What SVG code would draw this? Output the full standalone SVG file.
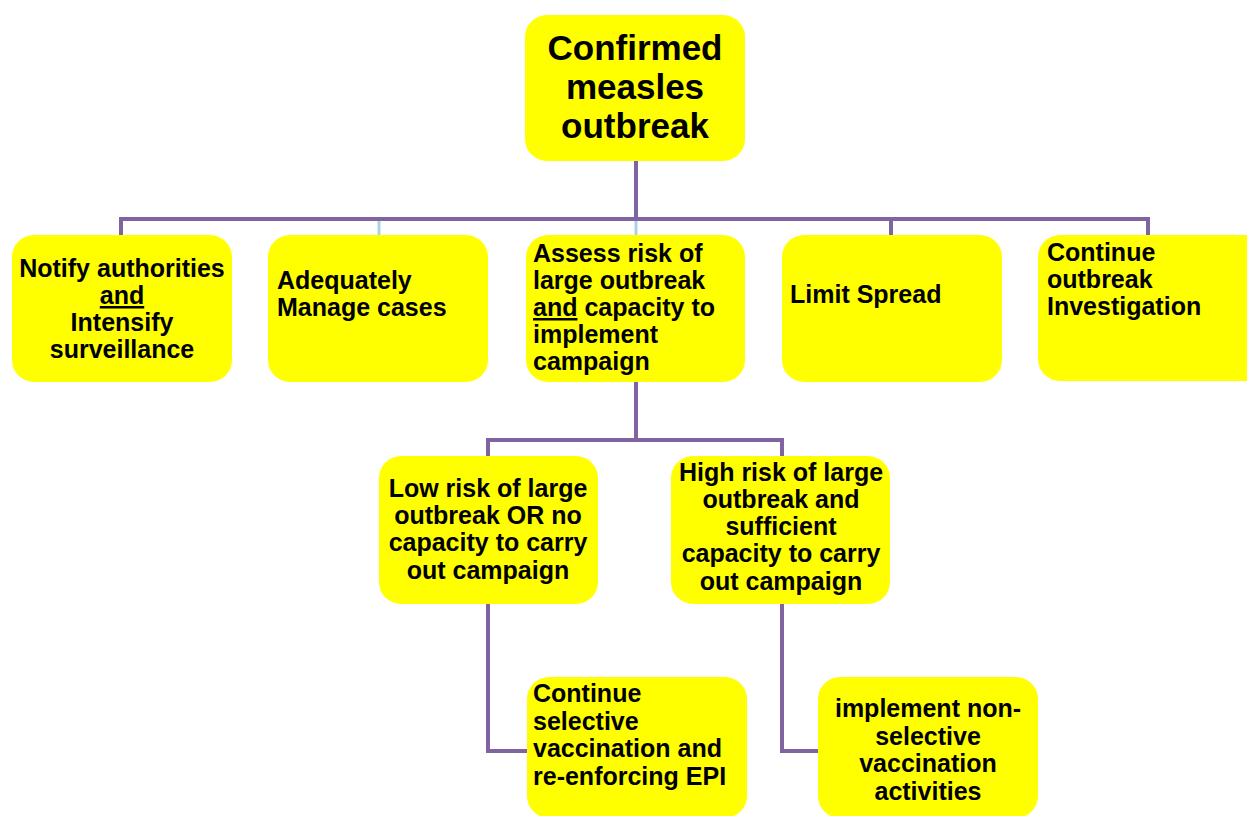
<svg xmlns="http://www.w3.org/2000/svg" width="1247" height="816" viewBox="0 0 1247 816">
<style>
.box{fill:#ffff00;}
.t{font-family:"Liberation Sans",Arial,sans-serif;font-weight:bold;font-size:25px;fill:#000;}
.tc{text-anchor:middle;}
.big{font-size:35px;}
.ln{fill:none;stroke:#8064a2;stroke-width:4;}
.lb{fill:none;stroke:#a9d3e3;stroke-width:3;}
.u{text-decoration:underline;}
</style>
<rect width="1247" height="816" fill="#ffffff"/>
<g id="connectors">
<path class="ln" d="M636 160 V219"/>
<path class="ln" d="M121 236 V219 H1148 V236"/>
<path class="ln" d="M891 219 V236"/>
<path class="lb" d="M379 221 V236"/>
<path class="lb" d="M636 221 V236"/>
<path class="ln" d="M636 380 V440"/>
<path class="ln" d="M488 456 V440 H782 V456"/>
<path class="ln" d="M488 603 V751 H528"/>
<path class="ln" d="M782 603 V751 H819"/>
</g>
<g id="n-root">
<rect class="box" x="525" y="15" width="220" height="146" rx="22"/>
<text class="t big tc" x="635" y="60">Confirmed</text>
<text class="t big tc" x="635" y="99">measles</text>
<text class="t big tc" x="635" y="138">outbreak</text>
</g>
<g id="n-notify">
<rect class="box" x="12" y="235" width="220" height="147" rx="22"/>
<text class="t tc" x="122" y="277">Notify authorities</text>
<text class="t tc" x="122" y="304"><tspan class="u">and</tspan></text>
<text class="t tc" x="122" y="331">Intensify</text>
<text class="t tc" x="122" y="358">surveillance</text>
</g>
<g id="n-manage">
<rect class="box" x="268" y="235" width="220" height="147" rx="22"/>
<text class="t" x="277" y="289">Adequately</text>
<text class="t" x="277" y="316">Manage cases</text>
</g>
<g id="n-assess">
<rect class="box" x="526" y="235" width="219" height="147" rx="22"/>
<text class="t" x="533" y="262">Assess risk of</text>
<text class="t" x="533" y="289">large outbreak</text>
<text class="t" x="533" y="316"><tspan class="u">and</tspan> capacity  to</text>
<text class="t" x="533" y="343">implement</text>
<text class="t" x="533" y="370">campaign</text>
</g>
<g id="n-limit">
<rect class="box" x="782" y="235" width="220" height="147" rx="22"/>
<text class="t" x="790" y="303">Limit Spread</text>
</g>
<g id="n-investigate">
<rect class="box" x="1038" y="235" width="230" height="146" rx="22"/>
<text class="t" x="1047" y="261">Continue</text>
<text class="t" x="1047" y="288">outbreak</text>
<text class="t" x="1047" y="315">Investigation</text>
</g>
<g id="n-low">
<rect class="box" x="379" y="456" width="219" height="148" rx="22"/>
<text class="t tc" x="488" y="497">Low risk of large</text>
<text class="t tc" x="488" y="524">outbreak OR no</text>
<text class="t tc" x="488" y="551">capacity to carry</text>
<text class="t tc" x="488" y="579">out campaign</text>
</g>
<g id="n-high">
<rect class="box" x="671" y="456" width="219" height="148" rx="22"/>
<text class="t tc" x="781" y="481">High risk of large</text>
<text class="t tc" x="781" y="508">outbreak and</text>
<text class="t tc" x="781" y="535">sufficient</text>
<text class="t tc" x="781" y="562">capacity to carry</text>
<text class="t tc" x="781" y="590">out campaign</text>
</g>
<g id="n-continue">
<rect class="box" x="527" y="677" width="220" height="141" rx="22"/>
<text class="t" x="533" y="702">Continue</text>
<text class="t" x="533" y="730">selective</text>
<text class="t" x="533" y="757">vaccination and</text>
<text class="t" x="533" y="785">re-enforcing EPI</text>
</g>
<g id="n-implement">
<rect class="box" x="818" y="677" width="220" height="141" rx="22"/>
<text class="t tc" x="928" y="717">implement non-</text>
<text class="t tc" x="928" y="745">selective</text>
<text class="t tc" x="928" y="772">vaccination</text>
<text class="t tc" x="928" y="800">activities</text>
</g>
</svg>
